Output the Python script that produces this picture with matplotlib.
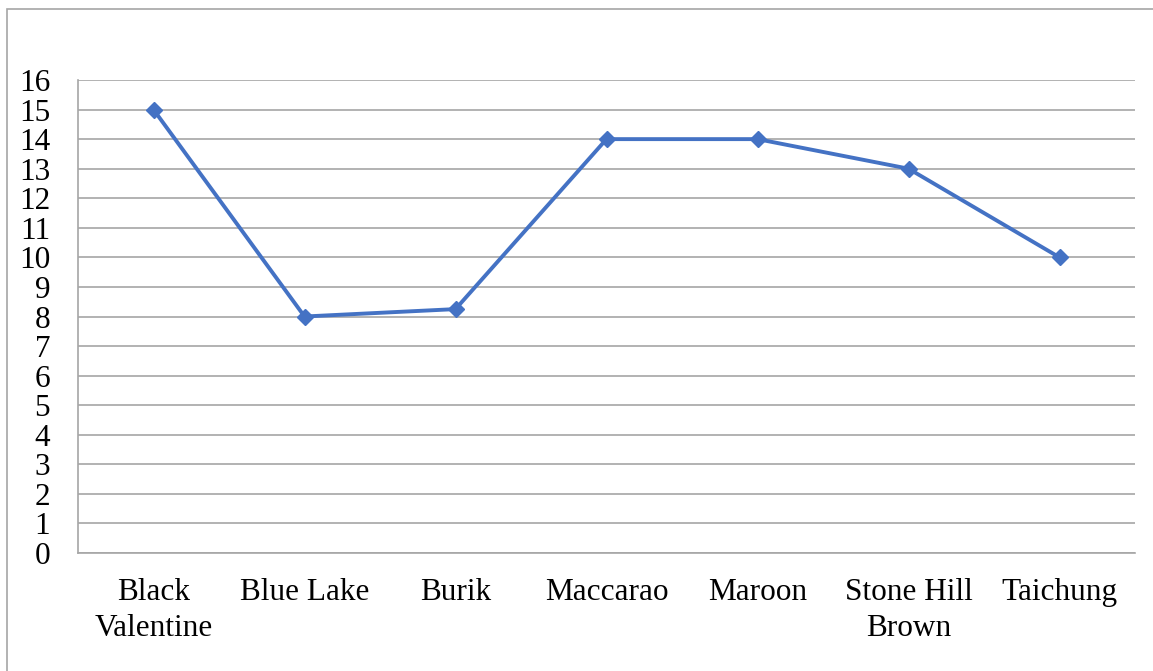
import matplotlib.pyplot as plt
import matplotlib.patches as mpatch

varieties = ['Black\nValentine', 'Blue Lake', 'Burik', 'Maccarao', 'Maroon',
             'Stone Hill\nBrown', 'Taichung']
values = [15, 8, 8.25, 14, 14, 13, 10]
y_ticks = list(range(0, 17))

plt.rcParams['font.family'] = ['Liberation Serif', 'DejaVu Serif']

fig = plt.figure(figsize=[11.53, 6.71], dpi=100)
ax = fig.add_axes([78 / 1153, 1 - 553 / 671, (1135 - 78) / 1153, (553 - 80) / 671])

# outer chart frame, cut off at right and bottom like the source
frame = mpatch.Rectangle((7 / 1153, -0.05), 1.1, 1 - 9 / 671 + 0.05,
                         transform=fig.transFigure, fill=False,
                         edgecolor='#a6a6a6', linewidth=1.2, clip_on=False)
fig.add_artist(frame)

x = list(range(len(varieties)))
ax.plot(x, values, color='#4472C4', linewidth=2.8, marker='D', markersize=8.5,
        zorder=3)

ax.set_xlim(-0.5, len(varieties) - 0.5)
ax.set_ylim(0, 16)
ax.set_yticks(y_ticks)
ax.set_xticks(x)
ax.set_xticklabels(varieties, fontsize=22.5, linespacing=1.3)
ax.tick_params(axis='y', labelsize=22.5, length=0, pad=20)
ax.tick_params(axis='x', length=0, pad=18)
ax.grid(axis='y', color='#a6a6a6', linewidth=1.2)
for side in ['top', 'right']:
    ax.spines[side].set_visible(False)
for side in ['left', 'bottom']:
    ax.spines[side].set_color('#a6a6a6')
    ax.spines[side].set_linewidth(1.2)

fig.savefig('out.png', dpi=100)
